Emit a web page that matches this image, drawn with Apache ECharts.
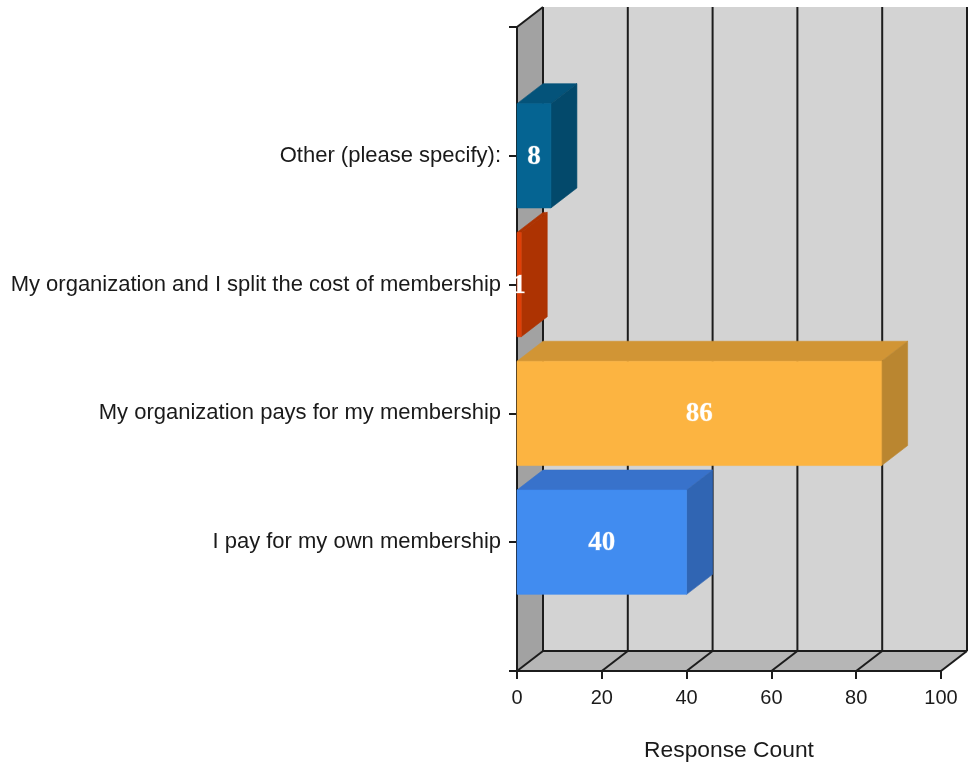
<!DOCTYPE html>
<html>
<head>
<meta charset="utf-8">
<style>html,body{margin:0;padding:0;background:#fff}#c{width:969px;height:766px}</style>
<script src="https://cdn.jsdelivr.net/npm/echarts@6/dist/echarts.min.js"></script>
</head>
<body>
<div id="c"></div>
<script>
const categories = ['', 'I pay for my own membership', 'My organization pays for my membership', 'My organization and I split the cost of membership', 'Other (please specify):', ''];
const responseCounts = [40, 86, 1, 8];
const barRows = [1, 2, 3, 4];
const frontColors = ['#418CF0', '#FCB441', '#DF3F08', '#056492'];
const topColors = ['#3872CB', '#D19535', '#AD3302', '#04537A'];
const sideColors = ['#3065B3', '#BA8630', '#AD3302', '#03496B'];
const xTicks = [0, 20, 40, 60, 80, 100];

const DX = 26, DY = -20, BAR = 0.81, LINE = '#1c1c1c';
const poly = (pts, fill, z2) => ({type:'polygon', z2:z2||0, shape:{points:pts}, style:{fill:fill, stroke:null}});
const solid = (pts, fill, z2) => ({type:'polygon', z2:z2||0, shape:{points:pts}, style:{fill:fill, stroke:fill, lineWidth:0.6}});
const seg = (a, b, z2) => ({type:'line', z2:z2||1, shape:{x1:a[0],y1:a[1],x2:b[0],y2:b[1]}, style:{stroke:LINE, lineWidth:2}});
const back = p => [p[0]+DX, p[1]+DY];

function renderWalls(params, api) {
  const yMax = categories.length - 1;
  const xMin = xTicks[0], xMax = xTicks[xTicks.length-1];
  const bl = api.coord([xMin,0]), br = api.coord([xMax,0]), tl = api.coord([xMin,yMax]), tr = api.coord([xMax,yMax]);
  const ch = [
    poly([back(tl), back(tr), back(br), back(bl)], '#D3D3D3'),
    poly([tl, back(tl), back(bl), bl], '#A2A2A2'),
    poly([bl, back(bl), back(br), br], '#B6B6B6'),
    seg(tl, back(tl)), seg(back(tl), back(bl)), seg(back(bl), back(br))
  ];
  xTicks.forEach(v => {
    const p = api.coord([v,0]), q = api.coord([v,yMax]);
    ch.push(seg(p, back(p)));
    if (v !== xMin) ch.push(seg(back(p), back(q)));
  });
  return {type:'group', children:ch};
}

function renderBar(params, api) {
  const i = params.dataIndex, v = api.value(0), row = api.value(1);
  const a = api.coord([0, row + BAR/2]), b = api.coord([v, row + BAR/2]);
  const c = api.coord([v, row - BAR/2]), d = api.coord([0, row - BAR/2]);
  const m = api.coord([v/2, row]);
  return {type:'group', children:[
    solid([a, back(a), back(b), b], topColors[i], 1),
    solid([b, back(b), back(c), c], sideColors[i], 1),
    solid([a, b, c, d], frontColors[i], 2),
    {type:'text', z2:5, x:m[0], y:m[1] + 1, style:{text:String(v), fill:'#fff', align:'center', verticalAlign:'middle',
      font:'bold 27px "Liberation Serif"', stroke:'rgba(255,255,255,0.25)', lineWidth:1}}
  ]};
}

const chart = echarts.init(document.getElementById('c'), null, {renderer:'canvas'});
chart.setOption({
  animation:false,
  backgroundColor:'#fff',
  grid:{left:517, right:28, top:27, bottom:95, outerBoundsMode:'none', containLabel:false},
  xAxis:{type:'value', min:0, max:100, interval:20, z:2,
    name:'Response Count', nameLocation:'middle', nameGap:68,
    nameTextStyle:{fontFamily:'Liberation Sans', fontSize:22.8, color:'#1a1a1a'},
    splitLine:{show:false},
    axisLine:{show:true, onZero:false, lineStyle:{color:LINE, width:2}},
    axisTick:{show:true, length:8, lineStyle:{color:LINE, width:2}},
    axisLabel:{fontFamily:'Liberation Sans', fontSize:20, color:'#1a1a1a', margin:17}
  },
  yAxis:{type:'value', min:0, max:categories.length-1, interval:1, z:2,
    axisLine:{show:true, onZero:false, lineStyle:{color:LINE, width:2}},
    axisTick:{show:true, length:8, lineStyle:{color:LINE, width:2}},
    splitLine:{show:false},
    axisLabel:{formatter:v => categories[v] || '', fontFamily:'Liberation Sans', fontSize:22, color:'#1a1a1a', margin:16}
  },
  series:[
    {type:'custom', z:1, silent:true, clip:false, renderItem:renderWalls, data:[[0,0]], encode:{x:0,y:1}},
    {type:'custom', z:5, silent:true, clip:false, renderItem:renderBar,
     data:responseCounts.map((v,i)=>[v, barRows[i]]), encode:{x:0,y:1}}
  ]
});
</script>
</body>
</html>
